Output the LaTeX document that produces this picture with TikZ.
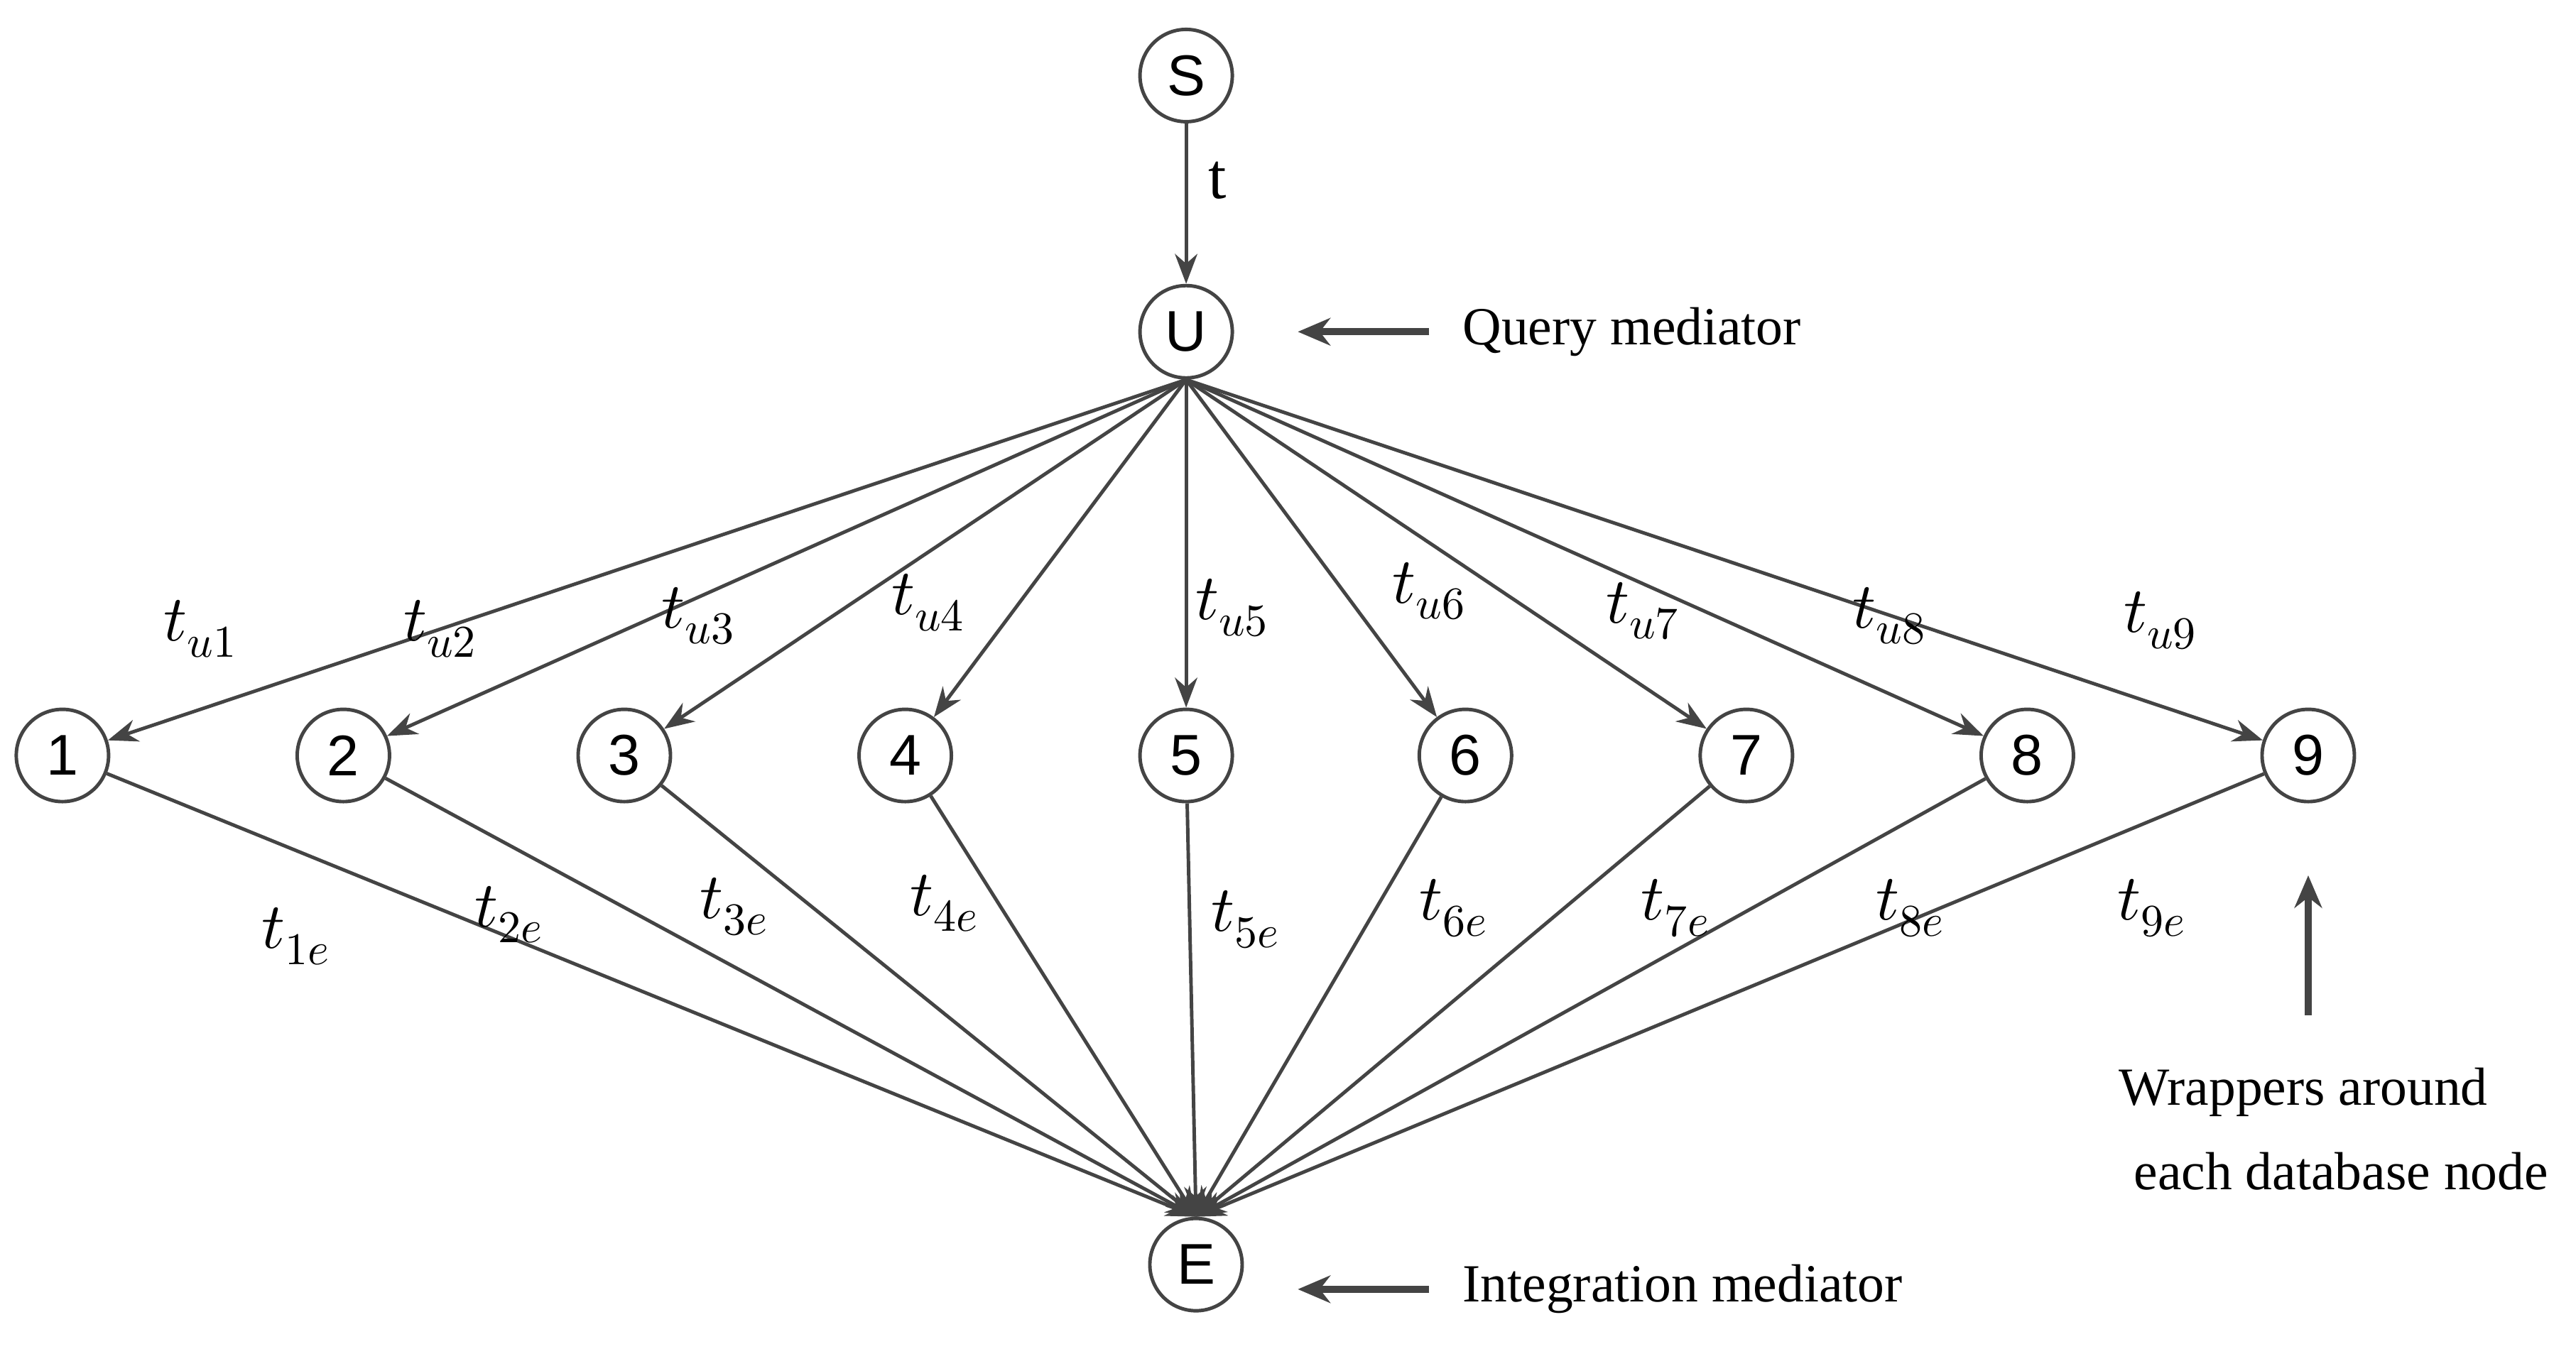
\documentclass[tikz,border=0pt]{standalone}
\usepackage{fontspec}
\setmainfont{Liberation Serif}
\newfontfamily\nodefont{Liberation Sans}
\usepackage{unicode-math}
\setmathfont{Latin Modern Math}
\usetikzlibrary{arrows.meta}
\definecolor{ln}{HTML}{444444}
\begin{document}
\begin{tikzpicture}[x=0.02313cm,y=-0.02313cm,
  v/.style={circle,draw=ln,line width=1.4pt,minimum size=1.3cm,inner sep=0pt,font=\nodefont\fontsize{23}{25}\selectfont},
  e/.style={draw=ln,line width=1.4pt,-{Stealth[length=12pt,width=9pt]}},
  big/.style={draw=ln,line width=2.8pt,-{Stealth[length=13pt,width=11pt]}},
  lab/.style={font=\fontsize{26}{28}\selectfont},
  ann/.style={font=\fontsize{21.5}{24}\selectfont}]
\useasboundingbox (0,0) rectangle (1568,821);
\node[v] (S) at (722,46) {S};
\node[v] (U) at (722,202) {U};
\node[v] (E) at (728,770) {E};
\foreach \i/\x in {1/38,2/209,3/380,4/551,5/722,6/892,7/1063,8/1234,9/1405}{
  \node[v] (n\i) at (\x,460) {\i};
  \draw[e] (U.south) -- (n\i);
  \draw[e] (n\i) -- (E.north);
}
\draw[e] (S) -- (U);
\node[lab] at (741,110) {t};
\foreach \i/\x/\y in {1/122/383,2/268/383,3/425/375,4/565/367,5/750/370,6/870/360,7/1000/372,8/1150/375,9/1315/378}
  \node[lab] at (\x,\y) {$t_{u\i}$};
\foreach \i/\x/\y in {1/180/570,2/310/557,3/447/552,4/575/550,5/758/560,6/885/553,7/1020/553,8/1163/553,9/1310/553}
  \node[lab] at (\x,\y) {$t_{\i e}$};
\coordinate (qa) at (870,202); \coordinate (qb) at (790,202);
\draw[big] (qa) -- (qb);
\node[ann,anchor=west] at (885,202) {Query mediator};
\coordinate (ia) at (870,785); \coordinate (ib) at (790,785);
\draw[big] (ia) -- (ib);
\node[ann,anchor=west] at (885,785) {Integration mediator};
\coordinate (wa) at (1405,618); \coordinate (wb) at (1405,533);
\draw[big] (wa) -- (wb);
\node[ann] at (1402,665) {Wrappers around};
\node[ann] at (1425,713) {each database node};
\end{tikzpicture}
\end{document}
